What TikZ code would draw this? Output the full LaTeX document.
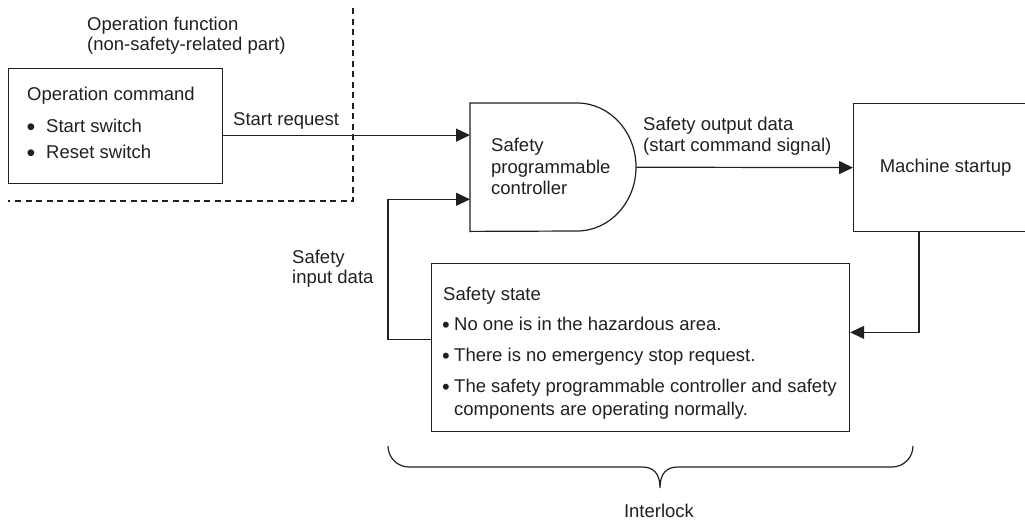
\documentclass[tikz,border=0pt]{standalone}
\usepackage{fontspec}
\setmainfont{Liberation Sans}
\usetikzlibrary{arrows.meta}
\usetikzlibrary{calc}
\definecolor{ink}{HTML}{231F20}
\tikzstyle{block} = [rectangle, draw=ink, line width=1.2pt, inner sep=0pt,
anchor=north west, text=ink, font=\fontsize{18.5}{22}\selectfont]
\tikzstyle{gate} = [rectangle, inner sep=0pt, anchor=north west]
\tikzstyle{txt} = [inner sep=0pt, anchor=base west, text=ink,
font=\fontsize{18.5}{22}\selectfont]
\tikzstyle{dot} = [txt, anchor=base, text height=2pt, text depth=0pt]
\tikzstyle{wire} = [draw=ink, line width=1.2pt]
\tikzstyle{zone} = [wire, dash pattern=on 6pt off 4.5pt]
\tikzset{>={Triangle[length=14pt,width=13pt]}}

\begin{document}
\begin{tikzpicture}[x=1pt, y=-1pt]
  \clip (0,0) rectangle (1025,520);

  % boxes
  \node[block, minimum width=214pt, minimum height=115pt] (cmd) at (8,68) {};
  \node[gate, minimum width=166pt, minimum height=128pt] (plc) at (470,103) {};
  \node[block, minimum width=184pt, minimum height=128pt] (mach) at (853,103) {Machine startup};
  \node[block, minimum width=418pt, minimum height=168pt] (safe) at (431,263) {};

  % controller outline
  \draw[wire] (plc.north west) -- ++(107,0)
    arc[start angle=-90, end angle=90, x radius=59, y radius=64]
    -- (plc.south west) -- cycle;

  % non-safety zone
  \draw[zone] (353,8) -- (353,201) -- (8,201);

  % texts
  \node[txt] (zone1) at (87,30) {Operation function};
  \node[txt] (zone2) at (87,50) {(non-safety-related part)};
  \node[txt] (cmdt) at (27,100) {Operation command};
  \foreach \t/\yy in {Start switch/132, Reset switch/158} {
    \node[txt] (cmd\yy) at (46,\yy) {\t};
    \node[dot, font=\fontsize{25}{25}\selectfont] (cmdb\yy) at (31,\yy+3) {•};
  }
  \foreach \t/\yy in {Safety/151, programmable/173, controller/194}
    \node[txt] (plc\yy) at (491,\yy) {\t};
  \node[txt] (req) at (233,125) {Start request};
  \node[txt] (out1) at (643,130) {Safety output data};
  \node[txt] (out2) at (643,151) {(start command signal)};
  \node[txt] (in1) at (292,263) {Safety};
  \node[txt] (in2) at (292,283) {input data};
  \node[txt] (safet) at (443,300) {Safety state};
  \foreach \t/\yy in {No one is in the hazardous area./330,
      There is no emergency stop request./361,
      The safety programmable controller and safety/392} {
    \node[txt] (safe\yy) at (454,\yy) {\t};
    \node[dot, font=\fontsize{22}{22}\selectfont] (safeb\yy) at (446,\yy+2) {•};
  }
  \node[txt] (safe415) at (454,415) {components are operating normally.};
  \node[txt, anchor=base] (lock) at (659,517) {Interlock};

  % connectors
  \coordinate (pin1) at ($(plc.north west)!0.25!(plc.south west)$);
  \coordinate (pin2) at ($(plc.north west)!0.75!(plc.south west)$);
  \coordinate (sout) at ($(safe.north west)!0.45!(safe.south west)$);
  \coordinate (sin) at ($(safe.north east)!0.41!(safe.south east)$);
  \coordinate (mout) at ($(mach.south west)+(66,0)$);
  \draw[wire, ->] (pin1 -| cmd.east) -- (pin1);
  \draw[wire, ->] (plc.east) -- (mach.west);
  \draw[wire, ->] (mout) |- (sin);
  \draw[wire, ->] (sout) -- ++(-43,0) |- (pin2);

  % brace
  \draw[wire] (388,446) arc[start angle=180, end angle=90, radius=21]
    -- (642,467) .. controls (654,467) and (660,474) .. (660,488)
    .. controls (660,474) and (666,467) .. (678,467)
    -- (892,467) arc[start angle=90, end angle=0, radius=21];
\end{tikzpicture}
\end{document}
